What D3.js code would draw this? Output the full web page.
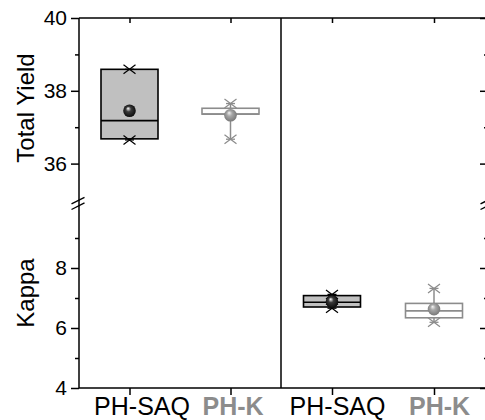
<!DOCTYPE html>
<html>
<head>
<meta charset="utf-8">
<script src="https://cdn.jsdelivr.net/npm/d3@7"></script>
<style>
  html, body { margin: 0; padding: 0; background: #fff; }
  svg { display: block; }
  text { font-family: "Liberation Sans", Arial, sans-serif; }
</style>
</head>
<body>
<svg id="chart" width="485" height="420"></svg>
<script>
// Categories shown in each panel
const categories = ["PH-SAQ", "PH-K"];

// Total Yield box statistics (left panel), one value per category
const yieldMin    = [36.65, 36.67];
const yieldQ1     = [36.68, 37.36];
const yieldMedian = [37.18, 37.36];
const yieldQ3     = [38.59, 37.52];
const yieldMax    = [38.59, 37.65];
const yieldMean   = [37.45, 37.33];

// Kappa box statistics (right panel)
const kappaMin    = [6.66, 6.19];
const kappaQ1     = [6.70, 6.34];
const kappaMedian = [6.86, 6.57];
const kappaQ3     = [7.08, 6.82];
const kappaMax    = [7.12, 7.32];
const kappaMean   = [6.88, 6.63];

// Axis ticks
const yieldTicks      = [36, 38, 40];
const yieldMinorTicks = [37, 39];
const kappaTicks      = [4, 6, 8];
const kappaMinorTicks = [5, 7, 9];

const svg = d3.select("#chart");

const plotLeft = 79, plotMid = 281, plotRight = 485, rightAxisX = 487;
const plotTop = 18, plotBottom = 388;

const yYield = d3.scaleLinear().domain([35, 40]).range([200, plotTop]);
const yKappa = d3.scaleLinear().domain([4, 10]).range([plotBottom, 208]);

const xLeft  = d3.scalePoint().domain(categories).range([plotLeft, plotMid]).padding(0.5);
const xRight = d3.scalePoint().domain(categories).range([plotMid, plotRight]).padding(0.5);

const catColor = { "PH-SAQ": "#000000", "PH-K": "#8c8c8c" };
const catFill  = { "PH-SAQ": "#c0c0c0", "PH-K": "#ffffff" };

// Sphere gradients for the mean markers
const defs = svg.append("defs");
function sphere(id, c0, c1, c2) {
  const g = defs.append("radialGradient").attr("id", id)
    .attr("cx", "0.5").attr("cy", "0.5").attr("r", "0.6")
    .attr("fx", "0.38").attr("fy", "0.3");
  g.append("stop").attr("offset", "0%").attr("stop-color", c0);
  g.append("stop").attr("offset", "35%").attr("stop-color", c1);
  g.append("stop").attr("offset", "100%").attr("stop-color", c2);
}
sphere("ball-PH-SAQ", "#ffffff", "#3a3a3a", "#000000");
sphere("ball-PH-K", "#f4f4f4", "#a8a8a8", "#6e6e6e");

// Frame lines
const frame = svg.append("g").attr("stroke", "#000").attr("stroke-width", 1.5).attr("fill", "none");
frame.append("line").attr("x1", plotLeft).attr("x2", rightAxisX).attr("y1", plotTop).attr("y2", plotTop);
frame.append("line").attr("x1", plotLeft).attr("x2", rightAxisX).attr("y1", plotBottom).attr("y2", plotBottom);
frame.append("line").attr("x1", plotLeft).attr("x2", plotLeft).attr("y1", plotTop).attr("y2", plotBottom);
frame.append("line").attr("x1", plotMid).attr("x2", plotMid).attr("y1", plotTop).attr("y2", plotBottom);

// Y axes: labelled left axis, mirrored unlabelled ticks on the right
function yAxis(scale, ticks, minor, x, labelled, len, minorLen) {
  const g = svg.append("g").attr("transform", `translate(${x},0)`)
    .call(d3.axisLeft(scale).tickValues(ticks).tickSize(len).tickPadding(4)
      .tickFormat(labelled ? d3.format("d") : () => ""));
  g.select(".domain").remove();
  g.selectAll(".tick line").attr("stroke-width", 1.5);
  g.selectAll(".tick text").attr("font-size", 21).attr("fill", "#000")
    .style("font-family", '"Liberation Sans", Arial, sans-serif');
  const m = svg.append("g").attr("transform", `translate(${x},0)`)
    .call(d3.axisLeft(scale).tickValues(minor).tickSize(minorLen).tickFormat(() => ""));
  m.select(".domain").remove();
  m.selectAll(".tick line").attr("stroke-width", 1.5);
}
yAxis(yYield, yieldTicks, yieldMinorTicks, plotLeft, true, 8, 4);
yAxis(yKappa, kappaTicks, kappaMinorTicks, plotLeft, true, 8, 4);
yAxis(yYield, yieldTicks, yieldMinorTicks, rightAxisX, false, 7, 3);
yAxis(yKappa, kappaTicks, kappaMinorTicks, rightAxisX, false, 7, 3);

// Axis break marks
function breakMark(x) {
  const b = svg.append("g").attr("stroke", "#000").attr("stroke-width", 1.4);
  [200.6, 206.2].forEach(cy => {
    b.append("line").attr("x1", x - 6.5).attr("y1", cy + 3.3).attr("x2", x + 6.5).attr("y2", cy - 3.3);
  });
}
breakMark(plotLeft - 1);
breakMark(rightAxisX);

// X axes (bottom with labels, top with inward ticks); category labels sit
// slightly right of their ticks
const labelShift = [[12, 2], [5, 5]];
[xLeft, xRight].forEach((xs, p) => {
  const gb = svg.append("g").attr("transform", `translate(0,${plotBottom})`)
    .call(d3.axisBottom(xs).tickSize(7).tickPadding(2));
  gb.select(".domain").remove();
  gb.selectAll(".tick line").attr("stroke-width", 1.5);
  gb.selectAll(".tick text")
    .attr("font-size", 25)
    .attr("dx", (d, i) => labelShift[p][i])
    .style("font-family", '"Liberation Sans", Arial, sans-serif')
    .attr("font-weight", d => d === "PH-K" ? "bold" : "normal")
    .attr("fill", d => catColor[d]);

  const gt = svg.append("g").attr("transform", `translate(0,${plotTop})`)
    .call(d3.axisBottom(xs).tickSize(5).tickFormat(() => ""));
  gt.select(".domain").remove();
  gt.selectAll(".tick line").attr("stroke-width", 1.5);
});

// Y titles
svg.append("text").attr("transform", `translate(34,${(yYield(35) + plotTop) / 2 - 1}) rotate(-90)`)
  .attr("text-anchor", "middle").attr("font-size", 24).text("Total Yield");
svg.append("text").attr("transform", `translate(34,${(yKappa(4) + yKappa(10)) / 2 - 5}) rotate(-90)`)
  .attr("text-anchor", "middle").attr("font-size", 24).text("Kappa");

// Box plots
function boxes(xs, y, mins, q1s, meds, q3s, maxs, means) {
  const boxW = 57, capW = 9;
  categories.forEach((c, i) => {
    const cx = xs(c), col = catColor[c];
    const g = svg.append("g");
    // whiskers
    g.append("line").attr("x1", cx).attr("x2", cx).attr("y1", y(maxs[i])).attr("y2", y(q3s[i]))
      .attr("stroke", col).attr("stroke-width", 1.5);
    g.append("line").attr("x1", cx).attr("x2", cx).attr("y1", y(q1s[i])).attr("y2", y(mins[i]))
      .attr("stroke", col).attr("stroke-width", 1.5);
    // box
    g.append("rect").attr("x", cx - boxW / 2).attr("width", boxW)
      .attr("y", y(q3s[i])).attr("height", y(q1s[i]) - y(q3s[i]))
      .attr("fill", catFill[c]).attr("stroke", col).attr("stroke-width", 1.6);
    g.append("line").attr("x1", cx - boxW / 2).attr("x2", cx + boxW / 2)
      .attr("y1", y(meds[i])).attr("y2", y(meds[i])).attr("stroke", col).attr("stroke-width", 1.6);
    // whisker caps and min/max crosses
    [mins[i], maxs[i]].forEach(v => {
      const yy = y(v);
      g.append("line").attr("x1", cx - capW / 2).attr("x2", cx + capW / 2).attr("y1", yy).attr("y2", yy)
        .attr("stroke", col).attr("stroke-width", 1.3);
      g.append("path").attr("d", `M${cx - 6},${yy - 4.5}L${cx + 6},${yy + 4.5}M${cx - 6},${yy + 4.5}L${cx + 6},${yy - 4.5}`)
        .attr("stroke", col).attr("stroke-width", 1.2).attr("fill", "none");
    });
    // mean
    g.append("circle").attr("cx", cx).attr("cy", y(means[i])).attr("r", 6.3)
      .attr("fill", `url(#ball-${c})`);
  });
}
boxes(xLeft, yYield, yieldMin, yieldQ1, yieldMedian, yieldQ3, yieldMax, yieldMean);
boxes(xRight, yKappa, kappaMin, kappaQ1, kappaMedian, kappaQ3, kappaMax, kappaMean);
</script>
</body>
</html>
